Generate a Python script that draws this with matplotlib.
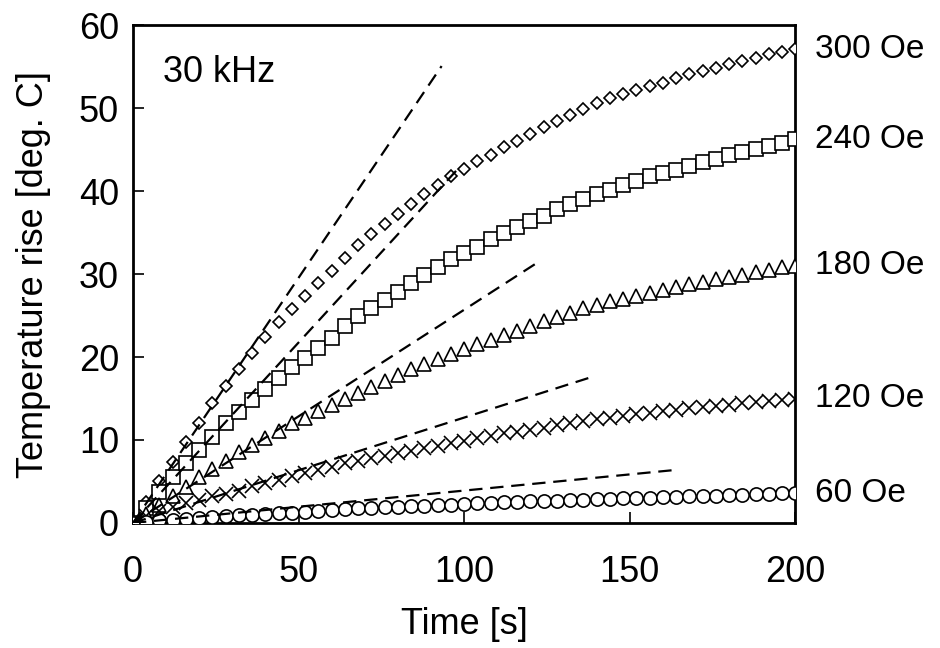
import matplotlib
matplotlib.use("Agg")
import matplotlib.pyplot as plt
import matplotlib.transforms as mtransforms
import numpy as np

plt.rcParams["font.family"] = ["Liberation Sans", "DejaVu Sans"]

# time axis, one reading every 4 s
t = np.arange(0, 201, 4)

T300 = [0, 2.5, 5.0, 7.4, 9.8, 12.0, 14.4, 16.5, 18.6, 20.5, 22.4, 24.2, 25.8,
        27.4, 28.9, 30.4, 32.0, 33.5, 34.8, 36.0, 37.3, 38.5, 39.6, 40.8, 41.8,
        42.7, 43.6, 44.4, 45.3, 46.1, 46.9, 47.7, 48.5, 49.2, 49.9, 50.6, 51.2,
        51.7, 52.2, 52.7, 53.1, 53.6, 54.1, 54.5, 54.9, 55.3, 55.7, 56.1, 56.5,
        56.8, 57.1]
T240 = [0, 1.8, 3.7, 5.5, 7.2, 8.8, 10.4, 12.0, 13.4, 14.8, 16.1, 17.5, 18.8,
        19.9, 21.1, 22.3, 23.7, 24.9, 25.9, 26.9, 27.9, 28.9, 29.9, 30.9, 31.8,
        32.5, 33.3, 34.2, 35.0, 35.7, 36.4, 37.0, 37.8, 38.4, 39.0, 39.6, 40.1,
        40.7, 41.2, 41.8, 42.2, 42.6, 43.0, 43.5, 43.9, 44.3, 44.7, 45.05, 45.45,
        45.85, 46.25]
T180 = [0, 1.1, 2.2, 3.2, 4.3, 5.5, 6.5, 7.5, 8.6, 9.4, 10.2, 11.1, 12.0,
        12.7, 13.5, 14.2, 15.0, 15.7, 16.4, 17.1, 17.8, 18.5, 19.2, 19.8, 20.4,
        21.0, 21.6, 22.1, 22.7, 23.2, 23.8, 24.3, 24.8, 25.3, 25.9, 26.3, 26.7,
        27.0, 27.3, 27.7, 28.05, 28.4, 28.75, 29.0, 29.35, 29.7, 29.95, 30.2,
        30.5, 30.8, 31.0]
T120 = [0, 0.8, 1.4, 1.9, 2.4, 2.8, 3.2, 3.5, 3.9, 4.4, 4.8, 5.2, 5.6, 6.0,
        6.4, 6.8, 7.2, 7.5, 7.8, 8.1, 8.4, 8.7, 9.0, 9.3, 9.6, 9.9, 10.2, 10.5,
        10.8, 11.0, 11.2, 11.5, 11.8, 12.0, 12.3, 12.5, 12.7, 12.9, 13.1, 13.3,
        13.5, 13.65, 13.8, 13.95, 14.1, 14.25, 14.4, 14.55, 14.7, 14.85, 15.0]
T60 = [0, 0.15, 0.3, 0.4, 0.5, 0.6, 0.7, 0.8, 0.9, 1.0, 1.1, 1.2, 1.25, 1.35,
       1.45, 1.6, 1.7, 1.75, 1.8, 1.9, 1.95, 2.0, 2.05, 2.15, 2.2, 2.3, 2.35,
       2.4, 2.5, 2.55, 2.6, 2.65, 2.7, 2.75, 2.8, 2.85, 2.9, 2.95, 3.0, 3.05,
       3.1, 3.15, 3.2, 3.25, 3.3, 3.35, 3.4, 3.45, 3.5, 3.55, 3.6]

labels = ["300 Oe", "240 Oe", "180 Oe", "120 Oe", "60 Oe"]
series = [T300, T240, T180, T120, T60]
markers = ["D", "s", "^", "x", "o"]
msizes = [6.5, 10, 9.5, 9.5, 9.5]

# initial-slope fits (deg C / s) and the time where each dashed line stops
slopes = [0.591, 0.435, 0.257, 0.127, 0.039]
fit_end = [93.2, 98, 122, 139.6, 162.7]

fig = plt.figure(figsize=(9.4, 6.48), dpi=100)
ax = fig.add_axes([0.1415, 0.193, 0.7045, 0.768])

for y, m, ms in zip(series, markers, msizes):
    ax.plot(t, y, linestyle="none", marker=m, markersize=ms,
            markerfacecolor="white", markeredgecolor="black",
            markeredgewidth=1.2, color="black", zorder=3)

for s, te in zip(slopes, fit_end):
    tt = np.array([0, te])
    ax.plot(tt, s * tt, "k--", lw=1.6, dashes=(6, 3.5), zorder=4)

ax.set_xlim(0, 200)
ax.set_ylim(0, 60)
ax.set_xticks([0, 50, 100, 150, 200])
ax.set_yticks([0, 10, 20, 30, 40, 50, 60])
ax.tick_params(direction="in", length=8, width=1.2, labelsize=26, pad=10)
ax.tick_params(axis="x", pad=23)
for sp in ax.spines.values():
    sp.set_linewidth(2)

ax.set_xlabel("Time [s]", fontsize=26, labelpad=12)
ax.set_ylabel("Temperature rise [deg. C]", fontsize=26, labelpad=20)

ax.text(0.045, 0.905, "30 kHz", transform=ax.transAxes, fontsize=26,
        va="center", ha="left")

trans = mtransforms.blended_transform_factory(ax.transAxes, ax.transData)
for lab, y in zip(labels, series):
    ax.text(1.03, y[-1], lab, transform=trans, fontsize=24,
            va="center", ha="left", clip_on=False)

fig.savefig("out.png", dpi=100)
plt.close(fig)
